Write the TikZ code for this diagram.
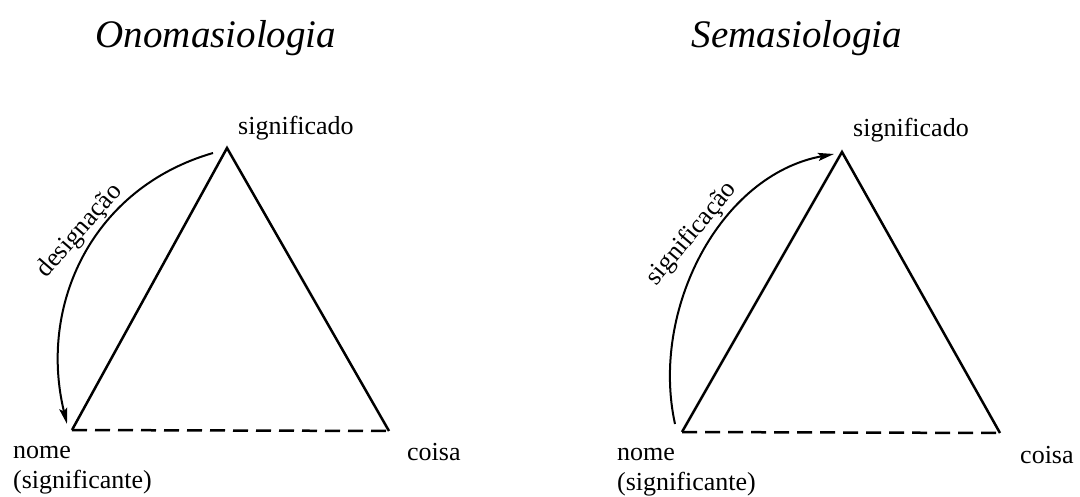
\documentclass[tikz,border=0pt]{standalone}
\usepackage{fontspec}
\setmainfont{Liberation Serif}
\usetikzlibrary{arrows.meta}
\begin{document}
\begin{tikzpicture}[x=1pt,y=-1pt,
  side/.style={line width=2.5pt, line join=miter},
  base/.style={side, dashed, dash pattern=on 15pt off 8pt},
  relarrow/.style={line width=2pt, -{Stealth[length=16pt,width=8pt,inset=3pt]}},
  title/.style={font=\fontsize{39}{44}\selectfont\itshape, inner sep=0pt, anchor=base},
  lab/.style={font=\fontsize{26}{30}\selectfont, inner sep=0pt, anchor=base west},
  rlab/.style={font=\fontsize{26}{30}\selectfont, inner sep=0pt}]
\useasboundingbox (0,0) rectangle (1080,497);
% left diagram
\coordinate (A1) at (227,148);
\coordinate (B1) at (72,430);
\coordinate (C1) at (389,431);
\node[title] (t1) at (216,48) {Onomasiologia};
\draw[side] (B1) -- (A1) -- (C1);
\draw[base] (B1) -- (C1);
\coordinate (s1) at (213,153);
\coordinate (e1) at (67,424);
\draw[relarrow] (s1) .. controls (92,188) and (38,305) .. (e1);
\node[rlab, rotate=49] (d1) at (80,231) {designação};
\node[lab] (sig1) at (238,135) {significado};
\node[lab] (n1) at (13,458) {nome};
\node[lab] (ns1) at (13,488) {(significante)};
\node[lab] (c1) at (407,460) {coisa};
% right diagram
\coordinate (A2) at (842,152);
\coordinate (B2) at (682,432);
\coordinate (C2) at (1000,433);
\node[title] (t2) at (797,48) {Semasiologia};
\draw[side] (B2) -- (A2) -- (C2);
\draw[base] (B2) -- (C2);
\coordinate (s2) at (675,424);
\coordinate (e2) at (834,154);
\draw[relarrow] (s2) .. controls (650,310) and (720,175) .. (e2);
\node[rlab, rotate=50] (d2) at (692,234) {significação};
\node[lab] (sig2) at (853,137) {significado};
\node[lab] (n2) at (617,460) {nome};
\node[lab] (ns2) at (617,490) {(significante)};
\node[lab] (c2) at (1020,463) {coisa};
\end{tikzpicture}
\end{document}
